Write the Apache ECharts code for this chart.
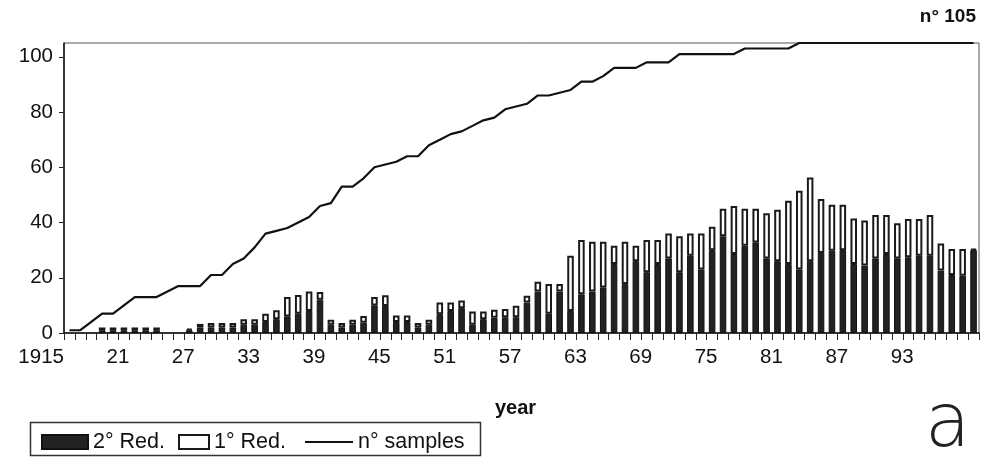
<!DOCTYPE html>
<html>
<head>
<meta charset="utf-8">
<script src="https://cdn.jsdelivr.net/npm/echarts@6/dist/echarts.min.js"></script>
<style>
html,body{margin:0;padding:0;background:#fff;}
#chart{width:992px;height:457px;}
</style>
</head>
<body>
<div id="chart"></div>
<script>
var years = ['1915','1916','1917','1918','1919','1920','1921','1922','1923','1924',
  '1925','1926','1927','1928','1929','1930','1931','1932','1933','1934',
  '1935','1936','1937','1938','1939','1940','1941','1942','1943','1944',
  '1945','1946','1947','1948','1949','1950','1951','1952','1953','1954',
  '1955','1956','1957','1958','1959','1960','1961','1962','1963','1964',
  '1965','1966','1967','1968','1969','1970','1971','1972','1973','1974',
  '1975','1976','1977','1978','1979','1980','1981','1982','1983','1984',
  '1985','1986','1987','1988','1989','1990','1991','1992','1993','1994',
  '1995','1996','1997','1998'];

// 2° Red. (dark, lower part of each bar)
var secondRed = [null,null,null,1,1,1,1,1,1,null,
  null,1,2,2,2,2,3,3,4,5,
  6,7,8,12,3,2,3,3.7,10,9.8,
  4,4,2,3,6.8,8,9,3,5,5.5,
  5.7,5.7,11,15,7,15,8,14,15,16.5,
  25,17.7,26,22,25,27,22,28,23,30,
  35,28.6,31.6,32.8,27,26,25,23,26,29,
  29.8,30,25,24.4,27,28.6,27,27.4,28,28,
  22.6,21,20.7,30];

// 1° Red. (white, upper part of each bar)
var firstRed = [null,null,null,1,1,1,1,1,1,null,
  null,0.5,1.3,1.6,1.6,1.6,2,2,3,3.2,
  7,6.8,7,2.8,1.8,1.6,1.8,2.5,3,3.9,
  2.3,2.3,1.6,1.8,4.2,3,2.8,4.8,2.8,2.9,
  3,4.2,2.5,3.6,10.7,2.7,20,19.7,18,16.5,
  6.6,15.3,5.6,11.7,8.7,9,13,8,13,8.5,
  10,17.4,13.4,12.2,16.4,18.6,22.9,28.5,30.3,19.5,
  16.6,16.4,16.5,16.3,15.7,14.1,12.7,13.9,13.3,14.7,
  9.8,9.4,9.7,0.4];

// n° samples (line)
var samples = [1,1,4,7,7,10,13,13,13,15,
  17,17,17,21,21,25,27,31,36,37,
  38,40,42,46,47,53,53,56,60,61,
  62,64,64,68,70,72,73,75,77,78,
  81,82,83,86,86,87,88,91,91,93,
  96,96,96,98,98,98,101,101,101,101,
  101,101,103,103,103,103,103,105,105,105,
  105,105,105,105,105,105,105,105,105,105,
  105,105,105,105];

var yTicks = [0,20,40,60,80,100];
var totalSamples = 105;

var FONT = '"Liberation Sans", Arial, sans-serif';
var chart = echarts.init(document.getElementById('chart'), null, {renderer:'canvas'});

var legendText = {fontFamily: FONT, fontSize: 21.5, color: '#111'};
var option = {
  backgroundColor: '#ffffff',
  animation: false,
  grid: {left: 64, right: 13, top: 43, bottom: 124, show: true, borderColor: '#555', borderWidth: 1, backgroundColor: 'transparent'},
  legend: [
    {data: [{name: '2° Red.', icon: 'rect'}], left: 36, top: 426, itemWidth: 46, itemHeight: 14, itemGap: 0, textStyle: legendText},
    {data: [{name: '1° Red.', icon: 'rect'}], left: 173, top: 426, itemWidth: 30, itemHeight: 14, itemGap: 0, textStyle: legendText},
    {data: [{name: 'n° samples', icon: 'rect'}], left: 300, top: 426, itemWidth: 48, itemHeight: 2, itemGap: 0, textStyle: legendText}
  ],
  graphic: [
    {type: 'rect', left: 28, top: 420, shape: {width: 450, height: 33}, style: {fill: 'none', stroke: '#333', lineWidth: 1.5}, z: 10},
    {type: 'text', left: 495, top: 398, style: {text: 'year', font: 'bold 20px ' + FONT, fill: '#111'}},
    {type: 'text', right: 16, top: 7, style: {text: 'n° ' + totalSamples, font: 'bold 19px ' + FONT, fill: '#111'}},
    {type: 'text', left: 925, top: 390, style: {text: 'a', font: '300 74px "DejaVu Sans", ' + FONT, fill: '#222'}}
  ],
  xAxis: {
    type: 'category',
    data: years,
    boundaryGap: true,
    axisLine: {lineStyle: {color: '#111', width: 1.5}},
    axisTick: {show: true, interval: 0, length: 7, lineStyle: {color: '#222', width: 1}},
    axisLabel: {
      interval: 5,
      align: 'right',
      padding: [0, 5.5, 0, 0],
      margin: 14,
      fontFamily: FONT, fontSize: 20.5, color: '#111',
      formatter: function (v, i) { return i === 0 ? v : v.slice(2); }
    },
    splitLine: {show: false}
  },
  yAxis: {
    type: 'value',
    min: 0, max: totalSamples, interval: 20,
    axisLine: {show: true, lineStyle: {color: '#111', width: 1.5}},
    axisTick: {show: true, length: 5, customValues: yTicks, lineStyle: {color: '#222'}},
    axisLabel: {customValues: yTicks, margin: 11, fontFamily: FONT, fontSize: 20.5, color: '#111'},
    splitLine: {show: false}
  },
  series: [
    {name: '2° Red.', type: 'bar', stack: 'red', data: secondRed, barWidth: '60%',
     itemStyle: {color: '#222222', borderColor: '#111', borderWidth: 1}},
    {name: '1° Red.', type: 'bar', stack: 'red', data: firstRed, barWidth: '60%',
     itemStyle: {color: '#ffffff', borderColor: '#1a1a1a', borderWidth: 2}},
    {name: 'n° samples', type: 'line', data: samples, symbol: 'none', z: 5,
     lineStyle: {color: '#111', width: 2.2}, itemStyle: {color: '#111'}}
  ]
};
chart.setOption(option);
</script>
</body>
</html>
